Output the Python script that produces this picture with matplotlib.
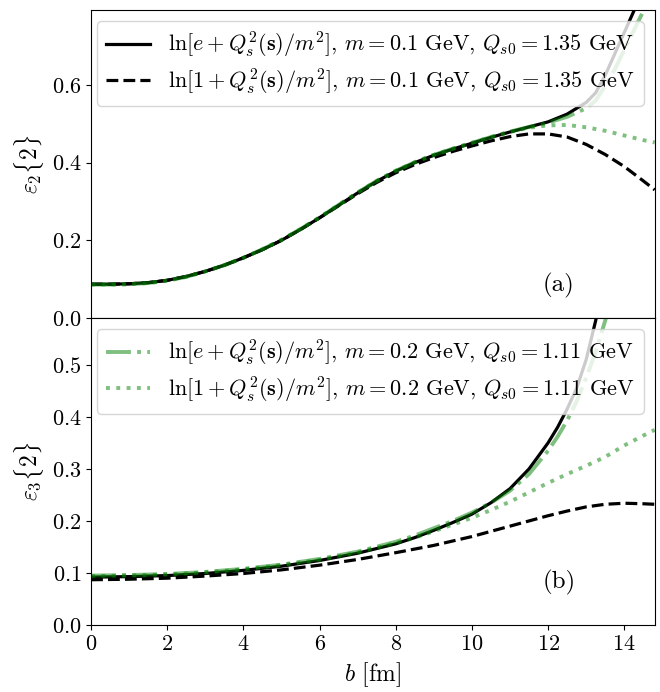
import numpy as np
import matplotlib
matplotlib.use("Agg")
import matplotlib.pyplot as plt

plt.rcParams['font.family'] = 'serif'
plt.rcParams['font.serif'] = ['cmr10']
plt.rcParams['mathtext.fontset'] = 'cm'
plt.rcParams['axes.formatter.use_mathtext'] = True
plt.rcParams['axes.unicode_minus'] = False

# ---- panel (a): eps_2{2} ----
b_a_solid = [0, 0.5, 1, 1.5, 2, 2.5, 3, 3.5, 4, 4.5, 5, 5.5, 6, 6.5, 7, 7.5, 8, 8.5, 9,
             9.5, 10, 10.5, 11, 11.5, 12, 12.5, 13, 13.25, 13.5, 13.75, 14, 14.25, 14.5]
e2_solid = [0.087, 0.087, 0.088, 0.091, 0.097, 0.107, 0.120, 0.136, 0.155, 0.176, 0.200,
            0.228, 0.258, 0.290, 0.322, 0.352, 0.378, 0.400, 0.419, 0.435, 0.450, 0.465,
            0.479, 0.492, 0.505, 0.525, 0.555, 0.580, 0.625, 0.680, 0.735, 0.790, 0.850]

b_a_dashdot = [0, 0.5, 1, 1.5, 2, 2.5, 3, 3.5, 4, 4.5, 5, 5.5, 6, 6.5, 7, 7.5, 8, 8.5, 9,
               9.5, 10, 10.5, 11, 11.5, 12, 12.5, 13, 13.25, 13.5, 13.75, 14, 14.25, 14.5, 14.75]
e2_dashdot = [0.086, 0.086, 0.087, 0.090, 0.096, 0.106, 0.120, 0.136, 0.155, 0.177, 0.201,
              0.229, 0.259, 0.291, 0.323, 0.353, 0.379, 0.401, 0.420, 0.436, 0.451, 0.466,
              0.480, 0.492, 0.503, 0.518, 0.540, 0.560, 0.598, 0.640, 0.690, 0.740, 0.790, 0.850]

b_a_dashed = [0, 0.5, 1, 1.5, 2, 2.5, 3, 3.5, 4, 4.5, 5, 5.5, 6, 6.5, 7, 7.5, 8, 8.5, 9,
              9.5, 10, 10.5, 11, 11.5, 12, 12.5, 13, 13.5, 14, 14.5, 14.8]
e2_dashed = [0.087, 0.087, 0.088, 0.091, 0.097, 0.107, 0.120, 0.136, 0.155, 0.176, 0.200,
             0.228, 0.258, 0.289, 0.320, 0.349, 0.374, 0.395, 0.413, 0.429, 0.443, 0.456,
             0.467, 0.474, 0.474, 0.466, 0.447, 0.421, 0.390, 0.353, 0.330]

b_a_dotted = [0, 0.5, 1, 1.5, 2, 2.5, 3, 3.5, 4, 4.5, 5, 5.5, 6, 6.5, 7, 7.5, 8, 8.5, 9,
              9.5, 10, 10.5, 11, 11.5, 12, 12.5, 13, 13.5, 14, 14.5, 14.8]
e2_dotted = [0.086, 0.086, 0.087, 0.090, 0.096, 0.106, 0.120, 0.136, 0.155, 0.177, 0.201,
             0.229, 0.259, 0.291, 0.323, 0.353, 0.379, 0.401, 0.420, 0.436, 0.451, 0.466,
             0.479, 0.490, 0.496, 0.497, 0.491, 0.482, 0.470, 0.458, 0.452]

# ---- panel (b): eps_3{2} ----
b_b_solid = [0, 1, 2, 3, 4, 5, 6, 7, 8, 8.5, 9, 9.5, 10, 10.5, 11, 11.5, 12, 12.25,
             12.5, 12.75, 13, 13.25, 13.4]
e3_solid = [0.092, 0.093, 0.095, 0.099, 0.105, 0.113, 0.124, 0.138, 0.156, 0.168, 0.182,
            0.197, 0.213, 0.235, 0.262, 0.300, 0.350, 0.380, 0.415, 0.455, 0.510, 0.585, 0.640]

b_b_dashdot = [0, 1, 2, 3, 4, 5, 6, 7, 8, 8.5, 9, 9.5, 10, 10.5, 11, 11.5, 12, 12.25,
               12.5, 12.75, 13, 13.25, 13.5, 13.6]
e3_dashdot = [0.095, 0.096, 0.098, 0.102, 0.108, 0.116, 0.127, 0.141, 0.160, 0.172, 0.186,
              0.200, 0.216, 0.235, 0.258, 0.290, 0.335, 0.362, 0.393, 0.430, 0.475, 0.525,
              0.585, 0.610]

b_b_dashed = [0, 1, 2, 3, 4, 5, 6, 7, 8, 9, 10, 11, 12, 12.5, 13, 13.5, 14, 14.5, 14.8]
e3_dashed = [0.087, 0.088, 0.090, 0.094, 0.099, 0.106, 0.115, 0.126, 0.139, 0.153, 0.170,
             0.190, 0.210, 0.219, 0.227, 0.232, 0.234, 0.233, 0.232]

b_b_dotted = [0, 1, 2, 3, 4, 5, 6, 7, 8, 8.5, 9, 9.5, 10, 10.5, 11, 11.5, 12, 12.5, 13,
              13.5, 14, 14.5, 14.8]
e3_dotted = [0.094, 0.095, 0.097, 0.101, 0.107, 0.115, 0.125, 0.139, 0.157, 0.168, 0.180,
             0.193, 0.206, 0.221, 0.237, 0.255, 0.273, 0.290, 0.306, 0.323, 0.345, 0.364, 0.375]

lab_solid = r"$\ln[e+Q_s^2(\mathbf{s})/m^2]$, $m=0.1$ GeV, $Q_{s0}=1.35$ GeV"
lab_dashed = r"$\ln[1+Q_s^2(\mathbf{s})/m^2]$, $m=0.1$ GeV, $Q_{s0}=1.35$ GeV"
lab_dashdot = r"$\ln[e+Q_s^2(\mathbf{s})/m^2]$, $m=0.2$ GeV, $Q_{s0}=1.11$ GeV"
lab_dotted = r"$\ln[1+Q_s^2(\mathbf{s})/m^2]$, $m=0.2$ GeV, $Q_{s0}=1.11$ GeV"

font_size = 16
lw = 2.3

fig = plt.figure(figsize=(6.6, 6.92), dpi=100)
ax1 = fig.add_axes([0.138, 0.5405, 0.854, 0.445])
ax2 = fig.add_axes([0.138, 0.0968, 0.854, 0.4437], sharex=ax1)

for ax, data in [(ax1, (b_a_solid, e2_solid, b_a_dashed, e2_dashed,
                        b_a_dashdot, e2_dashdot, b_a_dotted, e2_dotted)),
                 (ax2, (b_b_solid, e3_solid, b_b_dashed, e3_dashed,
                        b_b_dashdot, e3_dashdot, b_b_dotted, e3_dotted))]:
    bs, ys, bd, yd, bdd, ydd, bdo, ydo = data
    ax.plot(bs, ys, color='black', lw=lw, linestyle='-', label=lab_solid)
    ax.plot(bd, yd, color='black', lw=lw, linestyle='--', label=lab_dashed)
    ax.plot(bdd, ydd, color='green', alpha=0.5, lw=lw + 0.5, linestyle='-.', label=lab_dashdot)
    ax.plot(bdo, ydo, color='green', alpha=0.5, lw=lw + 0.5, linestyle=':', label=lab_dotted)
    ax.tick_params(labelsize=font_size)

h1, l1 = ax1.get_legend_handles_labels()
ax1.legend(h1[:2], l1[:2], loc='upper right', fontsize=font_size, handlelength=2.0,
           labelspacing=0.3)
h2, l2 = ax2.get_legend_handles_labels()
ax2.legend(h2[2:], l2[2:], loc='upper right', fontsize=font_size, handlelength=2.0,
           labelspacing=0.3)

ax1.set_xlim(0, 14.8)
ax1.set_ylim(0, 0.793)
ax2.set_ylim(0, 0.59)
ax1.set_yticks([0.0, 0.2, 0.4, 0.6])
ax2.set_yticks([0.0, 0.1, 0.2, 0.3, 0.4, 0.5])
ax1.set_xticks([0, 2, 4, 6, 8, 10, 12, 14])
plt.setp(ax1.get_xticklabels(), visible=False)
ax1.tick_params(axis='x', length=0)

ax1.set_ylabel(r'$\varepsilon_2\{2\}$', fontsize=font_size + 1)
ax2.set_ylabel(r'$\varepsilon_3\{2\}$', fontsize=font_size + 1)
ax2.set_xlabel(r'$b$ [fm]', fontsize=font_size + 1)

ax1.text(0.83, 0.107, '(a)', transform=ax1.transAxes, fontsize=18,
         ha='center', va='center')
ax2.text(0.83, 0.137, '(b)', transform=ax2.transAxes, fontsize=18,
         ha='center', va='center')

fig.savefig('out.png', dpi=100)
